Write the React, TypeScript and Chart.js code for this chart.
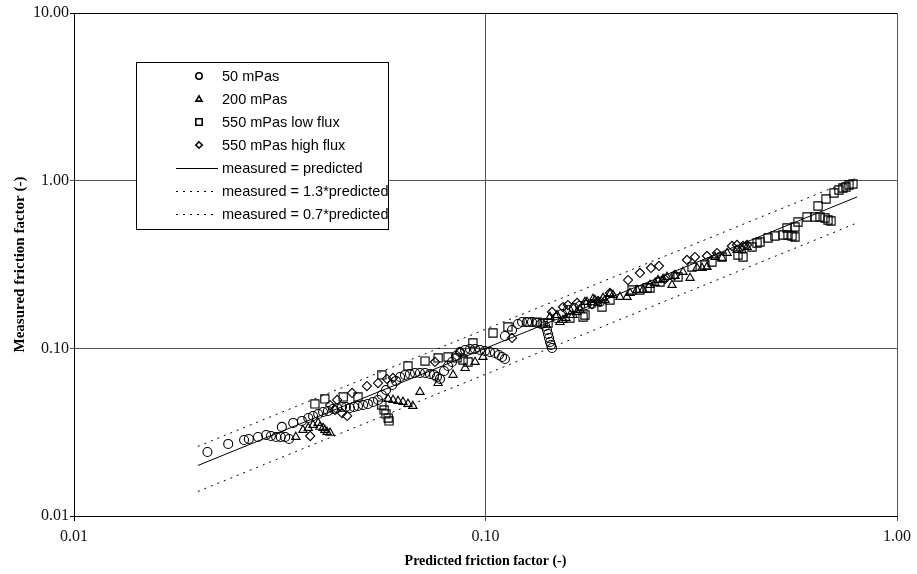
import React, { useEffect, useRef } from "react";
import { Chart, registerables } from "chart.js";

Chart.register(...registerables);

// Predicted vs measured friction factor, [predicted, measured]
const visc50: [number, number][] = [
  [0.0211, 0.0241], [0.0237, 0.0269], [0.0259, 0.0284], [0.0266, 0.0288], [0.028, 0.0296],
  [0.0293, 0.0304], [0.0301, 0.03], [0.031, 0.0296], [0.0318, 0.0296], [0.0326, 0.0296],
  [0.0333, 0.0288], [0.032, 0.034], [0.0341, 0.0359], [0.0358, 0.0369], [0.0371, 0.0384],
  [0.0381, 0.0395], [0.0392, 0.0406], [0.0403, 0.0417], [0.0414, 0.0423], [0.0426, 0.0435],
  [0.0436, 0.0441], [0.0448, 0.0447], [0.0458, 0.0447], [0.0468, 0.0441], [0.0479, 0.0447],
  [0.049, 0.0453], [0.0504, 0.0459], [0.0518, 0.0466], [0.0533, 0.0479], [0.0548, 0.0492],
  [0.056, 0.0527], [0.0573, 0.0564], [0.0593, 0.0605], [0.0606, 0.0639], [0.062, 0.0675],
  [0.0637, 0.0694], [0.0655, 0.0703], [0.0674, 0.0713], [0.0693, 0.0713], [0.0713, 0.0713],
  [0.0733, 0.0703], [0.075, 0.0694], [0.0762, 0.0675], [0.0775, 0.0657], [0.0793, 0.0733],
  [0.0811, 0.0785], [0.0829, 0.0829], [0.0848, 0.09], [0.0867, 0.0951], [0.0892, 0.0977],
  [0.0917, 0.0991], [0.0943, 0.0991], [0.097, 0.0977], [0.0997, 0.0964], [0.1025, 0.0951],
  [0.1054, 0.0938], [0.1078, 0.0913], [0.1097, 0.0888], [0.1115, 0.0864], [0.1115, 0.1185],
  [0.116, 0.1286], [0.1199, 0.1397], [0.1227, 0.1435], [0.1262, 0.1435], [0.1297, 0.1435],
  [0.1334, 0.1416], [0.1365, 0.1397], [0.1396, 0.1359], [0.1411, 0.1286], [0.1419, 0.1218],
  [0.1427, 0.1153], [0.1435, 0.1091], [0.1443, 0.1047], [0.1451, 0.1005], [0.1484, 0.1517],
  [0.1534, 0.1602], [0.1586, 0.1693], [0.1641, 0.174], [0.1697, 0.1789], [0.1755, 0.1813],
  [0.1815, 0.1838], [0.1897, 0.1889],
];

const visc200: [number, number][] = [
  [0.0346, 0.0296], [0.036, 0.0326], [0.0371, 0.0335], [0.0381, 0.0349], [0.0392, 0.0359],
  [0.0396, 0.034], [0.0403, 0.0335], [0.0407, 0.0326], [0.0412, 0.0317], [0.0419, 0.0313],
  [0.058, 0.0499], [0.0596, 0.0492], [0.0613, 0.0485], [0.063, 0.0479], [0.0648, 0.0466],
  [0.0666, 0.0453], [0.0693, 0.0549], [0.0767, 0.0621], [0.0834, 0.0694], [0.0892, 0.0763],
  [0.0943, 0.0829], [0.0986, 0.0888], [0.1435, 0.1538], [0.1517, 0.1435], [0.1492, 0.158],
  [0.1604, 0.158], [0.1543, 0.1476], [0.1569, 0.1517], [0.1632, 0.158], [0.1669, 0.1647],
  [0.1697, 0.1693], [0.1745, 0.1889], [0.1765, 0.1889], [0.1825, 0.1969], [0.1845, 0.1942],
  [0.1876, 0.1864], [0.193, 0.1996], [0.1952, 0.1942], [0.2007, 0.2109], [0.2041, 0.208],
  [0.2122, 0.2024], [0.2207, 0.2024], [0.2245, 0.2138], [0.2334, 0.2228], [0.2414, 0.2228],
  [0.2511, 0.2386], [0.2582, 0.2452], [0.2626, 0.2555], [0.27, 0.2591], [0.2761, 0.2663],
  [0.2839, 0.2386], [0.2887, 0.27], [0.302, 0.2853], [0.3141, 0.2627], [0.3266, 0.3014],
  [0.3359, 0.3014], [0.3454, 0.3056], [0.3612, 0.3505], [0.3756, 0.3457], [0.3864, 0.3703],
  [0.4085, 0.386], [0.4201, 0.386], [0.4321, 0.4022],
];

const visc550Low: [number, number][] = [
  [0.0385, 0.0466], [0.0407, 0.0499], [0.0451, 0.0513], [0.049, 0.0513], [0.056, 0.0459],
  [0.0567, 0.0429], [0.0573, 0.0406], [0.058, 0.0384], [0.0583, 0.0369], [0.056, 0.0694],
  [0.0648, 0.0785], [0.0713, 0.084], [0.0767, 0.0876], [0.0811, 0.0888], [0.0853, 0.0876],
  [0.0882, 0.0852], [0.0907, 0.0829], [0.0932, 0.1076], [0.1043, 0.1234], [0.1134, 0.1341],
  [0.1269, 0.1435], [0.1334, 0.1435], [0.138, 0.1416], [0.1419, 0.1416], [0.1604, 0.1517],
  [0.1726, 0.1538], [0.1745, 0.158], [0.1919, 0.1764], [0.2007, 0.1942], [0.227, 0.2228],
  [0.2373, 0.2228], [0.2469, 0.229], [0.2511, 0.229], [0.2655, 0.2486], [0.2937, 0.2663],
  [0.3176, 0.3056], [0.3414, 0.3141], [0.3551, 0.3273], [0.3756, 0.3505], [0.4108, 0.3603],
  [0.4225, 0.3505], [0.4443, 0.4022], [0.4569, 0.4249], [0.4647, 0.4308], [0.486, 0.455],
  [0.5051, 0.4677], [0.5284, 0.4742], [0.5434, 0.4742], [0.5557, 0.4677], [0.5651, 0.4613],
  [0.5404, 0.5222], [0.5651, 0.5293], [0.5747, 0.5668], [0.6044, 0.6072], [0.6321, 0.6072],
  [0.65, 0.6072], [0.6684, 0.5989], [0.6797, 0.5827], [0.6912, 0.5747], [0.6428, 0.7062],
  [0.6722, 0.7774], [0.7029, 0.8442], [0.7228, 0.8797], [0.7391, 0.9043], [0.7516, 0.9168],
  [0.7643, 0.9424], [0.7816, 0.9553],
];

const visc550High: [number, number][] = [
  [0.0375, 0.03], [0.0419, 0.0459], [0.0431, 0.0429], [0.0448, 0.0411], [0.0461, 0.0395],
  [0.0436, 0.0492], [0.0474, 0.0542], [0.0515, 0.0596], [0.0548, 0.0621], [0.0576, 0.0657],
  [0.0596, 0.0666], [0.0754, 0.0829], [0.0867, 0.0951], [0.116, 0.1153], [0.1451, 0.1647],
  [0.1543, 0.1764], [0.1586, 0.1813], [0.1669, 0.1864], [0.1815, 0.1838], [0.1876, 0.1916],
  [0.2007, 0.2138], [0.222, 0.2555], [0.2373, 0.2814], [0.2525, 0.3014], [0.264, 0.3098],
  [0.273, 0.2591], [0.2887, 0.2738], [0.3088, 0.3364], [0.3229, 0.3505], [0.3454, 0.3554],
  [0.3653, 0.3703], [0.3972, 0.4077], [0.4085, 0.4134], [0.4225, 0.4077], [0.4321, 0.4134],
];

// Reference lines: measured = k * predicted
const lineExact: [number, number][] = [[0.02, 0.02], [0.8, 0.8]];
const linePlus30: [number, number][] = [[0.02, 0.026], [0.8, 1.04]];
const lineMinus30: [number, number][] = [[0.02, 0.014], [0.8, 0.56]];

const xTicks = [0.01, 0.1, 1];
const yTicks = [0.01, 0.1, 1, 10];

const seriesLabels = [
  "50 mPas",
  "200 mPas",
  "550 mPas low flux",
  "550 mPas high flux",
  "measured = predicted",
  "measured = 1.3*predicted",
  "measured = 0.7*predicted",
];

const SERIF = '"Liberation Serif", "Times New Roman", serif';
const SANS = '"Liberation Sans", Arial, sans-serif';

const toXY = (pts: [number, number][]) => pts.map(([x, y]) => ({ x, y }));

function markerPath(ctx: CanvasRenderingContext2D, style: string, x: number, y: number, r: number) {
  ctx.beginPath();
  if (style === "circle") {
    ctx.arc(x, y, r, 0, Math.PI * 2);
  } else if (style === "triangle") {
    ctx.moveTo(x, y - r);
    ctx.lineTo(x + r * 0.95, y + r * 0.65);
    ctx.lineTo(x - r * 0.95, y + r * 0.65);
    ctx.closePath();
  } else if (style === "rect") {
    ctx.rect(x - r, y - r, r * 2, r * 2);
  } else {
    ctx.moveTo(x - r, y);
    ctx.lineTo(x, y - r);
    ctx.lineTo(x + r, y);
    ctx.lineTo(x, y + r);
    ctx.closePath();
  }
  ctx.stroke();
}

const legendBox = {
  id: "legendBox",
  afterDraw(chart: any) {
    const { ctx, chartArea: a } = chart;
    const x0 = a.left + 62;
    const y0 = a.top + 49;
    const w = 252;
    const h = 167;
    ctx.save();
    ctx.fillStyle = "#fff";
    ctx.fillRect(x0, y0, w, h);

    ctx.save();
    ctx.beginPath();
    ctx.rect(x0, y0, w, h);
    ctx.clip();
    ctx.font = `14.5px ${SANS}`;
    ctx.textBaseline = "middle";
    ctx.textAlign = "left";
    chart.data.datasets.forEach((ds: any, i: number) => {
      const cy = y0 + 14 + i * 23;
      ctx.strokeStyle = "#000";
      if (ds.showLine) {
        ctx.lineWidth = 1;
        ctx.setLineDash(ds.borderDash || []);
        ctx.beginPath();
        ctx.moveTo(x0 + 40, cy + 0.5);
        ctx.lineTo(x0 + 82, cy + 0.5);
        ctx.stroke();
        ctx.setLineDash([]);
      } else {
        ctx.lineWidth = 1.6;
        markerPath(ctx, ds.pointStyle, x0 + 63, cy, 3.2);
      }
      ctx.fillStyle = "#000";
      ctx.fillText(ds.label, x0 + 86, cy + 1);
    });
    ctx.restore();

    ctx.strokeStyle = "#000";
    ctx.lineWidth = 1;
    ctx.strokeRect(x0 + 0.5, y0 + 0.5, w, h);
    ctx.restore();
  },
};

const pointSet = (label: string, data: [number, number][], style: string, r: number) => ({
  label,
  data: toXY(data),
  pointStyle: style,
  pointRadius: r,
  pointBorderWidth: 1.1,
  pointBorderColor: "#000",
  pointBackgroundColor: "rgba(0,0,0,0)",
  showLine: false,
});

const lineSet = (label: string, data: [number, number][], dash: number[]) => ({
  label,
  data: toXY(data),
  showLine: true,
  borderColor: "#000",
  borderWidth: 1,
  borderDash: dash,
  pointRadius: 0,
  fill: false,
});

export default function App() {
  const canvasRef = useRef<HTMLCanvasElement | null>(null);

  useEffect(() => {
    if (!canvasRef.current) return;
    const gridColor = (c: any) =>
      c.tick && (c.tick.value === 0.1 || c.tick.value === 1) ? "#555" : "#000";
    const chart = new Chart(canvasRef.current, {
      type: "scatter",
      data: {
        datasets: [
          pointSet(seriesLabels[0], visc50, "circle", 4.5),
          pointSet(seriesLabels[1], visc200, "triangle", 4.8),
          pointSet(seriesLabels[2], visc550Low, "rect", 5.8),
          pointSet(seriesLabels[3], visc550High, "rectRot", 4.6),
          lineSet(seriesLabels[4], lineExact, []),
          lineSet(seriesLabels[5], linePlus30, [2, 5]),
          lineSet(seriesLabels[6], lineMinus30, [2, 5]),
        ] as any,
      },
      options: {
        animation: false,
        responsive: false,
        layout: { padding: { left: 0, top: 13, right: 20, bottom: 0 } },
        plugins: { legend: { display: false }, tooltip: { enabled: false } },
        scales: {
          x: {
            type: "logarithmic",
            min: 0.01,
            max: 1,
            afterBuildTicks: (s: any) => {
              s.ticks = xTicks.map((v) => ({ value: v }));
            },
            afterFit: (s: any) => {
              s.height = 58;
            },
            ticks: {
              callback: (v: any) => Number(v).toFixed(2),
              font: { family: SERIF, size: 16 },
              color: "#111",
              padding: 6,
              maxRotation: 0,
              autoSkip: false,
            },
            grid: { color: gridColor, lineWidth: 1, tickLength: 5, drawTicks: true },
            border: { color: "#000", width: 1 },
            title: {
              display: true,
              text: "Predicted friction factor (-)",
              font: { family: SERIF, size: 14, weight: "bold" },
              color: "#000",
              padding: { top: 0, bottom: 4 },
            },
          },
          y: {
            type: "logarithmic",
            min: 0.01,
            max: 10,
            afterBuildTicks: (s: any) => {
              s.ticks = yTicks.map((v) => ({ value: v }));
            },
            afterFit: (s: any) => {
              s.width = 74;
            },
            ticks: {
              callback: (v: any) => Number(v).toFixed(2),
              font: { family: SERIF, size: 16 },
              color: "#111",
              padding: 1,
              autoSkip: false,
            },
            grid: { color: gridColor, lineWidth: 1, tickLength: 4, drawTicks: true },
            border: { color: "#000", width: 1 },
            title: {
              display: true,
              text: "Measured friction factor (-)",
              font: { family: SERIF, size: 15, weight: "bold" },
              color: "#000",
              padding: { top: 11, bottom: 0 },
            },
          },
        },
      },
      plugins: [legendBox],
    });
    return () => chart.destroy();
  }, []);

  return (
    <div style={{ position: "absolute", left: 0, top: 0, width: 917, height: 574, background: "#fff" }}>
      <canvas ref={canvasRef} width={917} height={574} />
    </div>
  );
}
